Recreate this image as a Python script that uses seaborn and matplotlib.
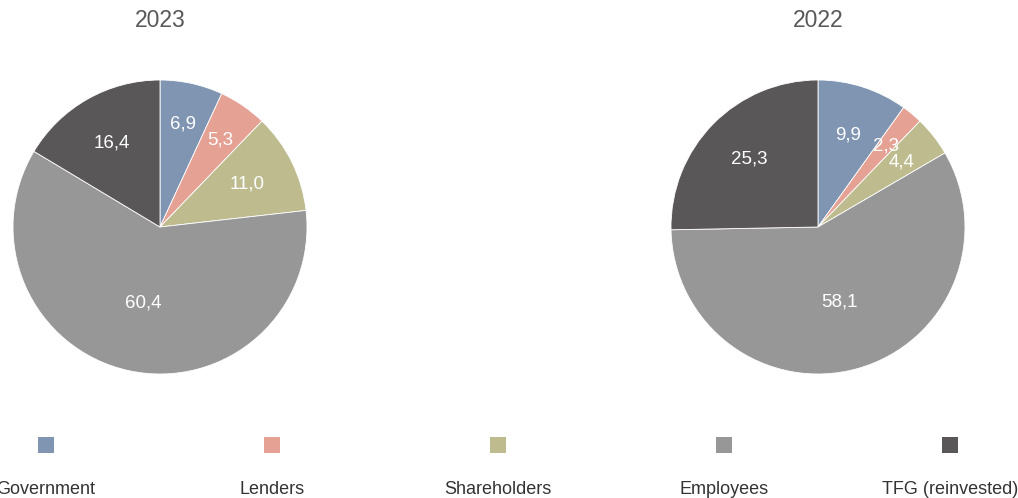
import numpy as np
import pandas as pd
import seaborn as sns
import matplotlib.pyplot as plt

# Datos
categorias = ["Government", "Lenders", "Shareholders", "Employees", "TFG (reinvested)"]
valores_2023 = [6.9, 5.3, 11.0, 60.4, 16.4]
valores_2022 = [9.9, 2.3, 4.4, 58.1, 25.3]
anios = ["2023", "2022"]

colores = sns.color_palette(["#7F95B2", "#E4A194", "#BEBC8F", "#979797", "#595758"])

sns.set_theme(style="white")
plt.rcParams["font.family"] = ["Liberation Sans", "DejaVu Sans"]

W, H = 1018, 498
fig = plt.figure(figsize=(W / 100, H / 100), dpi=100)


def eje_px(cx, cy, r):
    # ejes cuadrados centrados en (cx, cy) en píxeles
    return fig.add_axes([(cx - r) / W, 1 - (cy + r) / H, 2 * r / W, 2 * r / H])


def formato(v):
    return f"{v:.1f}".replace(".", ",")


for anio, vals, cx in zip(anios, [valores_2023, valores_2022], [160, 818]):
    ax = eje_px(cx, 227, 147)
    wedges, _ = ax.pie(vals, colors=colores, startangle=90, counterclock=False,
                       wedgeprops=dict(edgecolor="white", linewidth=0.6))
    for w, v in zip(wedges, vals):
        ang = np.deg2rad((w.theta1 + w.theta2) / 2)
        # distancia de la etiqueta según el tamaño del sector
        d = 0.53 if v > 50 else (0.66 if v > 8 else 0.72)
        ax.text(d * np.cos(ang), d * np.sin(ang), formato(v), ha="center", va="center",
                color="white", fontsize=13.5)
    ax.set_xlim(-1, 1)
    ax.set_ylim(-1, 1)
    fig.text(cx / W, 1 - 20 / H, anio, ha="center", va="center", fontsize=16.5, color="#595959")

# Leyenda construida a mano (marcadores arriba, texto abajo)
ley = fig.add_axes([0, 0, 1, 0.2])
df_ley = pd.DataFrame({"x": range(len(categorias)), "y": 1, "cat": categorias})
sns.scatterplot(data=df_ley, x="x", y="y", hue="cat", palette=colores, marker="s",
                s=120, linewidth=0, legend=False, ax=ley)
for i, c in enumerate(categorias):
    ley.text(i, 0, c, ha="center", va="center", fontsize=13, color="#333333")
ley.set_xlim(-46 / 226, (W - 46) / 226)
# y: marcador en px 445, texto en px 489 (44 px por unidad)
alto = 0.2 * H
ley.set_ylim(0 - (H - 489) / 44, 0 + (alto - (H - 489)) / 44)
ley.axis("off")

fig.savefig("out.png", dpi=100)
